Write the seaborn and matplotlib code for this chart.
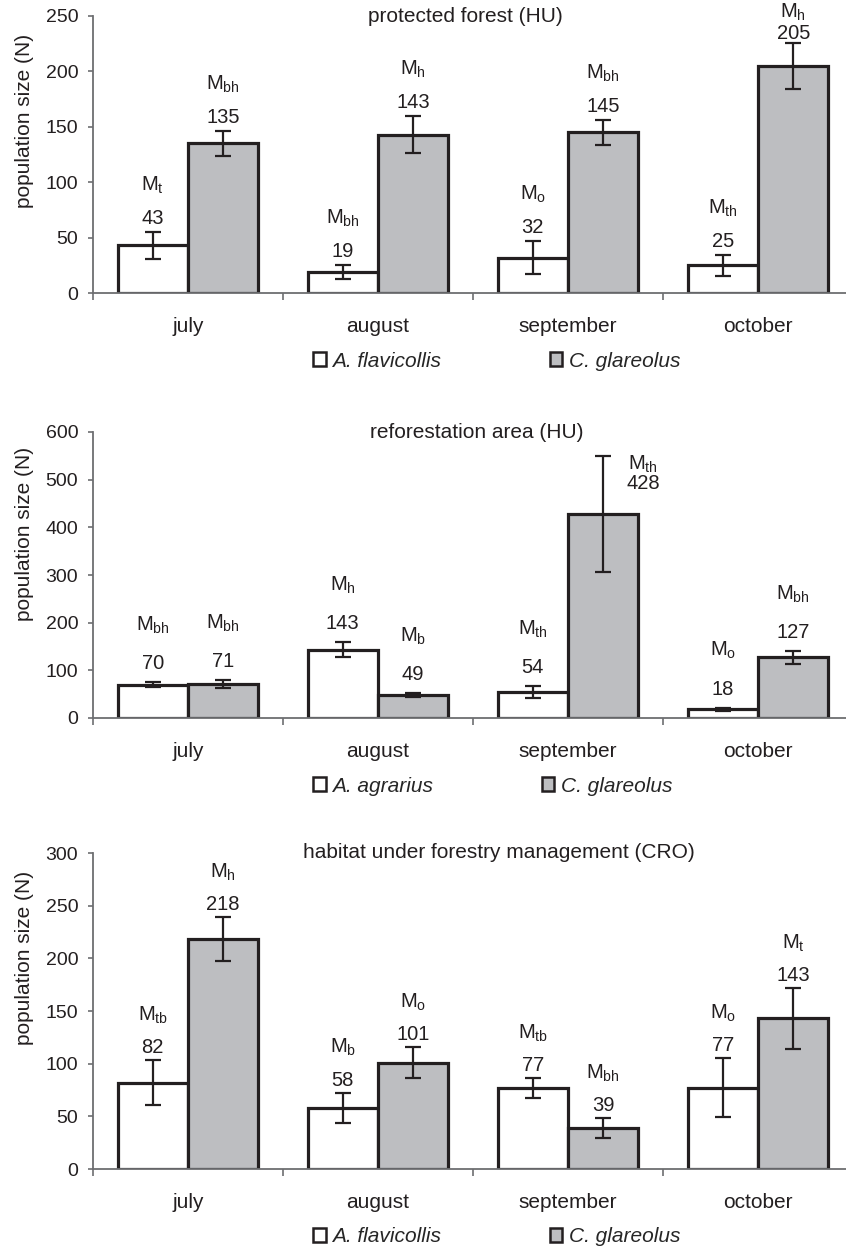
import matplotlib
matplotlib.use("Agg")
import matplotlib.pyplot as plt
from matplotlib.container import BarContainer
from matplotlib.patches import Patch
from matplotlib.ticker import FixedLocator, MultipleLocator
import pandas as pd
import seaborn as sns

# ---------------------------------------------------------------- data
months = ["july", "august", "september", "october"]

# protected forest (HU)
p1_title = "protected forest (HU)"
p1_species = ["A. flavicollis", "C. glareolus"]
p1_first = [43, 19, 32, 25]
p1_second = [135, 143, 145, 205]
p1_first_err = [12, 6, 14.5, 9.5]
p1_second_err = [11, 17, 11, 20.5]
p1_first_model = ["t", "bh", "o", "th"]
p1_second_model = ["bh", "h", "bh", "h"]

# reforestation area (HU)
p2_title = "reforestation area (HU)"
p2_species = ["A. agrarius", "C. glareolus"]
p2_first = [70, 143, 54, 18]
p2_second = [71, 49, 428, 127]
p2_first_err = [5, 16, 13, 4]
p2_second_err = [9, 4, 122, 13]
p2_first_model = ["bh", "h", "th", "o"]
p2_second_model = ["bh", "b", "th", "bh"]

# habitat under forestry management (CRO)
p3_title = "habitat under forestry management (CRO)"
p3_species = ["A. flavicollis", "C. glareolus"]
p3_first = [82, 58, 77, 77]
p3_second = [218, 101, 39, 143]
p3_first_err = [21.5, 14.5, 9.6, 28]
p3_second_err = [21, 14.5, 9.6, 28.7]
p3_first_model = ["tb", "b", "tb", "o"]
p3_second_model = ["h", "o", "bh", "t"]

# ---------------------------------------------------------------- style
sns.set_theme(style="ticks")
plt.rcParams["font.family"] = ["Liberation Sans", "DejaVu Sans"]
plt.rcParams["mathtext.default"] = "regular"

INK = "#231f20"
AXIS = "#6d6e71"
WHITE = "#ffffff"
GRAY = "#bdbec1"

W, H = 846, 1252
PX = 0.72  # points per pixel at 100 dpi

fig = plt.figure(figsize=(W / 100, H / 100), dpi=100)


def px_axes(top, bottom, left=93, right=853):
    return fig.add_axes([left / W, (H - bottom) / H, (right - left) / W, (bottom - top) / H])


def draw_panel(ax, title, title_x, species, first, second, first_err, second_err,
               first_model, second_model, ymax, ystep, num_off, model_off,
               ylabel_y, overrides):
    df = pd.DataFrame({
        "month": months * 2,
        "species": [species[0]] * len(months) + [species[1]] * len(months),
        "N": first + second,
    })
    sns.barplot(data=df, x="month", y="N", hue="species", order=months,
                hue_order=species, palette={species[0]: WHITE, species[1]: GRAY},
                saturation=1, width=0.742, edgecolor=INK, linewidth=2.3,
                errorbar=None, legend=False, ax=ax, zorder=2)

    errs = [first_err, second_err]
    values = [first, second]
    models = [first_model, second_model]
    bar_groups = [c for c in ax.containers if isinstance(c, BarContainer)]
    for s, container in enumerate(bar_groups):
        for m, bar in enumerate(container.patches):
            x = bar.get_x() + bar.get_width() / 2
            h = bar.get_height()
            e = errs[s][m]
            ax.errorbar(x, h, yerr=e, fmt="none", ecolor=INK, elinewidth=1.6,
                        capsize=5.5, capthick=1.6, zorder=3)
            dx, dn, dm = overrides.get((m, s), (0, num_off, model_off))
            ax.annotate(f"{values[s][m]}", xy=(x, h + e),
                        xytext=(dx * PX, (dn - 7) * PX), textcoords="offset points",
                        ha="center", va="baseline", fontsize=14.5, color=INK)
            ax.annotate(rf"$M_{{{models[s][m]}}}$", xy=(x, h + e),
                        xytext=(dx * PX, (dn + dm - 6.5) * PX), textcoords="offset points",
                        ha="center", va="baseline", fontsize=14.5, color=INK)

    ax.set_ylim(0, ymax)
    ax.set_xlim(-0.5, len(months) - 0.5)
    ax.yaxis.set_major_locator(MultipleLocator(ystep))
    ax.xaxis.set_minor_locator(FixedLocator([i - 0.5 for i in range(len(months) + 1)]))
    ax.tick_params(axis="y", which="major", length=3.6, width=1.2, color=AXIS,
                   labelsize=14, labelcolor=INK, pad=7)
    ax.tick_params(axis="x", which="major", length=0, labelsize=15,
                   labelcolor=INK, pad=17)
    ax.tick_params(axis="x", which="minor", length=5, width=1.2, color=AXIS,
                   direction="out")
    ax.set_xlabel("")
    ax.set_ylabel("")
    for side in ("top", "right"):
        ax.spines[side].set_visible(False)
    for side in ("left", "bottom"):
        ax.spines[side].set_color(AXIS)
        ax.spines[side].set_linewidth(1.3)
    ax.spines["bottom"].set_zorder(4)

    bbox = ax.get_position()
    fig.text(title_x / W, bbox.y1, title, ha="center", va="center",
             fontsize=15, color=INK)
    fig.text(25 / W, (H - ylabel_y) / H, "population size (N)", rotation=90,
             ha="center", va="center", fontsize=15, color=INK)

    handles = [Patch(facecolor=WHITE, edgecolor=INK, linewidth=1.8, label=species[0]),
               Patch(facecolor=GRAY, edgecolor=INK, linewidth=1.8, label=species[1])]
    fig.legend(handles=handles, loc="center left",
               bbox_to_anchor=(313 / W, bbox.y0 - 68 / H),
               ncol=2, frameon=False, borderpad=0, borderaxespad=0,
               handlelength=0.62, handleheight=0.62, handletextpad=0.3,
               columnspacing=5.2,
               prop={"style": "italic", "size": 15})


ax1 = px_axes(16, 293)
draw_panel(ax1, p1_title, 465, p1_species, p1_first, p1_second, p1_first_err,
           p1_second_err, p1_first_model, p1_second_model, 250, 50, 15, 33, 121,
           {(3, 1): (0, 11.5, 20)})

ax2 = px_axes(432, 718)
draw_panel(ax2, p2_title, 477, p2_species, p2_first, p2_second, p2_first_err,
           p2_second_err, p2_first_model, p2_second_model, 600, 100, 20, 38, 534,
           {(2, 1): (40, -26, 19)})

ax3 = px_axes(853, 1169)
draw_panel(ax3, p3_title, 499, p3_species, p3_first, p3_second, p3_first_err,
           p3_second_err, p3_first_model, p3_second_model, 300, 50, 14, 32, 958,
           {})

fig.savefig("out.png", dpi=100)
